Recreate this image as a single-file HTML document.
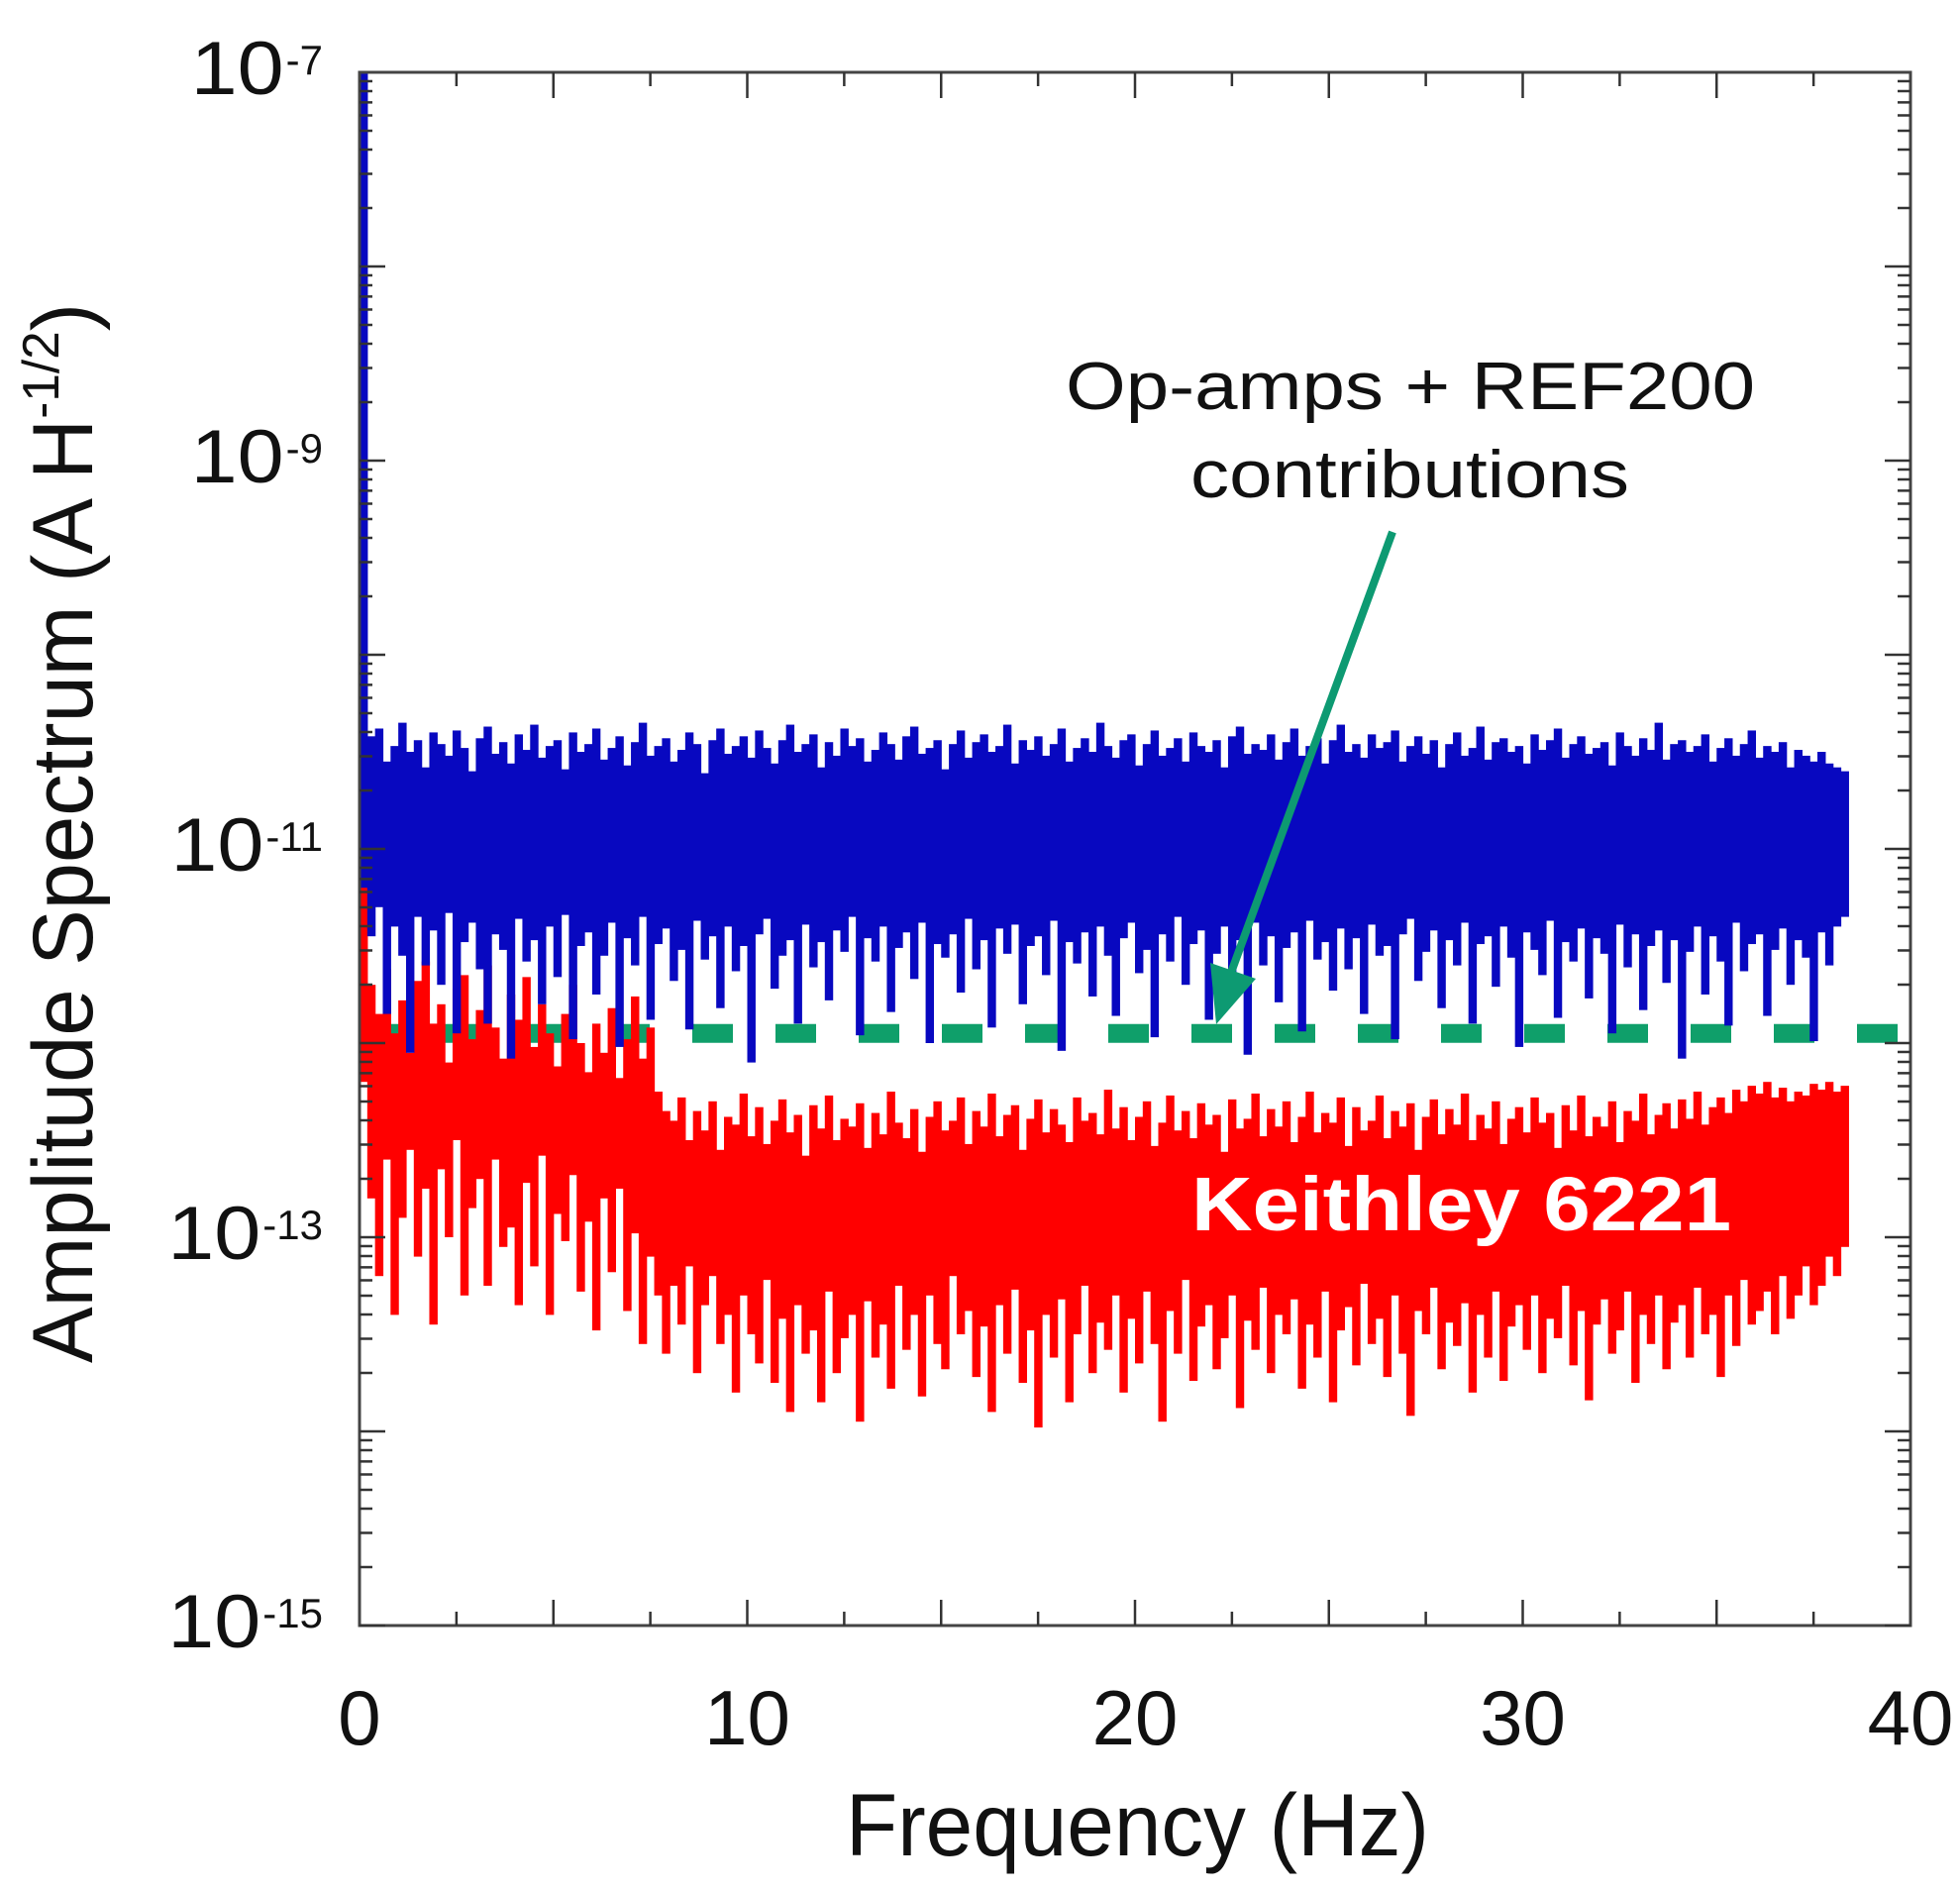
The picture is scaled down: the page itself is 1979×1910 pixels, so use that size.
<!DOCTYPE html>
<html><head><meta charset="utf-8">
<style>
html,body{margin:0;padding:0;background:#fff;}
svg{display:block;font-family:"Liberation Sans",Arial,sans-serif;}
</style></head>
<body>
<svg id="chart" width="1979" height="1910" viewBox="0 0 1979 1910" xmlns="http://www.w3.org/2000/svg">
  <rect width="1979" height="1910" fill="#fff"/>
  <line id="refline" stroke="#0f9f6a" stroke-width="19" stroke-dasharray="41 43"/>
  <g id="series"></g>
  <g id="axes"></g>
  <g>
    <line x1="1406" y1="537" x2="1240" y2="990" stroke="#0d9a72" stroke-width="8"/>
    <polygon points="1228,1034 1222,972 1268,988" fill="#0d9a72"/>
  </g>
  <text x="1076" y="413" font-size="68" textLength="696" lengthAdjust="spacingAndGlyphs" fill="#111">Op-amps + REF200</text>
  <text x="1202" y="502" font-size="68" textLength="443" lengthAdjust="spacingAndGlyphs" fill="#111">contributions</text>
  <text x="1203" y="1242" font-size="77" font-weight="bold" textLength="545" lengthAdjust="spacingAndGlyphs" fill="#fff">Keithley 6221</text>
  <text x="854" y="1873" font-size="89" textLength="589" lengthAdjust="spacingAndGlyphs" fill="#111">Frequency (Hz)</text>
  <text transform="translate(93,1376) rotate(-90)" x="0" y="0" font-size="86" textLength="1070" lengthAdjust="spacingAndGlyphs" fill="#111">Amplitude Spectrum (A H<tspan font-size="52" dy="-34">-1/2</tspan><tspan dy="34">)</tspan></text>
</svg>
<script>
// ---- data (log10 of amplitude, bins of 0.2 Hz starting at 0 Hz) ----
const binWidthHz = 0.2;
const xTickValues = [0, 10, 20, 30, 40];
const xTickLabels = ["0", "10", "20", "30", "40"];
const yDecadeExponents = [-7, -9, -11, -13, -15];
const refLevelExp = -11.95;
const blueHi = [-7.00,-10.42,-10.38,-10.55,-10.47,-10.35,-10.50,-10.44,-10.58,-10.40,
-10.46,-10.52,-10.39,-10.48,-10.60,-10.43,-10.37,-10.51,-10.45,-10.56,
-10.41,-10.49,-10.36,-10.53,-10.47,-10.44,-10.59,-10.40,-10.50,-10.46,
-10.38,-10.54,-10.48,-10.42,-10.57,-10.45,-10.35,-10.52,-10.47,-10.43,
-10.55,-10.49,-10.40,-10.46,-10.61,-10.44,-10.38,-10.51,-10.47,-10.42,
-10.53,-10.39,-10.48,-10.56,-10.44,-10.36,-10.50,-10.46,-10.41,-10.58,
-10.45,-10.52,-10.38,-10.47,-10.43,-10.55,-10.49,-10.40,-10.46,-10.54,
-10.42,-10.37,-10.51,-10.48,-10.44,-10.59,-10.46,-10.39,-10.53,-10.45,
-10.41,-10.50,-10.47,-10.36,-10.56,-10.44,-10.49,-10.42,-10.52,-10.46,
-10.38,-10.55,-10.48,-10.43,-10.50,-10.35,-10.47,-10.53,-10.44,-10.41,
-10.57,-10.46,-10.39,-10.52,-10.48,-10.43,-10.55,-10.40,-10.47,-10.50,
-10.44,-10.58,-10.42,-10.37,-10.51,-10.46,-10.49,-10.41,-10.54,-10.45,
-10.38,-10.52,-10.47,-10.43,-10.56,-10.44,-10.36,-10.50,-10.46,-10.53,
-10.41,-10.48,-10.45,-10.39,-10.55,-10.47,-10.42,-10.51,-10.44,-10.58,
-10.46,-10.40,-10.52,-10.48,-10.37,-10.54,-10.45,-10.43,-10.50,-10.47,
-10.56,-10.41,-10.49,-10.44,-10.38,-10.53,-10.46,-10.42,-10.51,-10.48,
-10.45,-10.57,-10.40,-10.47,-10.52,-10.43,-10.49,-10.35,-10.54,-10.46,
-10.44,-10.50,-10.47,-10.41,-10.55,-10.48,-10.43,-10.52,-10.46,-10.39,
-10.53,-10.47,-10.50,-10.45,-10.58,-10.49,-10.52,-10.55,-10.50,-10.56,
-10.58,-10.60];
const blueLo = [-11.20,-11.45,-11.30,-11.85,-11.40,-11.55,-12.05,-11.35,-11.60,-11.42,
-11.70,-11.33,-11.95,-11.48,-11.38,-11.62,-11.90,-11.44,-11.52,-12.08,
-11.36,-11.58,-11.47,-11.80,-11.40,-11.66,-11.34,-11.98,-11.50,-11.43,
-11.75,-11.55,-11.38,-12.02,-11.46,-11.60,-11.35,-11.88,-11.49,-11.41,
-11.68,-11.52,-11.93,-11.37,-11.57,-11.45,-11.82,-11.40,-11.63,-11.50,
-12.10,-11.44,-11.36,-11.72,-11.55,-11.47,-11.90,-11.39,-11.61,-11.48,
-11.78,-11.42,-11.53,-11.35,-11.96,-11.46,-11.58,-11.40,-11.84,-11.51,
-11.43,-11.67,-11.38,-12.00,-11.49,-11.56,-11.44,-11.74,-11.36,-11.62,
-11.47,-11.92,-11.41,-11.54,-11.39,-11.80,-11.50,-11.45,-11.65,-11.37,
-12.04,-11.48,-11.59,-11.43,-11.76,-11.40,-11.55,-11.86,-11.46,-11.38,
-11.64,-11.52,-11.97,-11.44,-11.58,-11.35,-11.70,-11.49,-11.42,-11.88,
-11.54,-11.40,-11.66,-11.47,-12.06,-11.38,-11.60,-11.45,-11.79,-11.51,
-11.43,-11.94,-11.37,-11.57,-11.48,-11.73,-11.41,-11.62,-11.46,-11.85,
-11.39,-11.55,-11.50,-11.98,-11.44,-11.36,-11.68,-11.53,-11.42,-11.82,
-11.47,-11.60,-11.38,-11.90,-11.49,-11.45,-11.71,-11.40,-11.56,-12.02,
-11.43,-11.52,-11.65,-11.37,-11.87,-11.48,-11.58,-11.41,-11.77,-11.46,
-11.54,-11.95,-11.39,-11.61,-11.44,-11.83,-11.50,-11.42,-11.69,-11.47,
-12.08,-11.53,-11.40,-11.75,-11.45,-11.58,-11.91,-11.38,-11.63,-11.49,
-11.44,-11.86,-11.52,-11.41,-11.70,-11.47,-11.56,-11.99,-11.43,-11.60,
-11.40,-11.35];
const redHi = [-11.00,-11.70,-11.85,-11.62,-11.95,-11.78,-12.05,-11.68,-11.58,-11.90,
-11.80,-12.10,-11.72,-11.65,-11.98,-11.83,-11.60,-11.92,-12.08,-11.75,
-11.88,-11.66,-12.02,-11.80,-11.95,-12.12,-11.85,-11.70,-12.00,-12.15,
-11.90,-12.05,-11.82,-12.18,-11.98,-11.76,-12.08,-11.92,-12.25,-12.35,
-12.40,-12.28,-12.50,-12.35,-12.45,-12.30,-12.55,-12.38,-12.42,-12.26,
-12.48,-12.33,-12.52,-12.40,-12.29,-12.46,-12.37,-12.58,-12.32,-12.44,
-12.27,-12.50,-12.39,-12.43,-12.31,-12.54,-12.36,-12.47,-12.25,-12.41,
-12.49,-12.34,-12.56,-12.38,-12.30,-12.45,-12.40,-12.28,-12.52,-12.35,
-12.43,-12.26,-12.48,-12.37,-12.32,-12.55,-12.39,-12.29,-12.46,-12.34,
-12.42,-12.51,-12.28,-12.40,-12.36,-12.47,-12.24,-12.44,-12.33,-12.50,
-12.38,-12.30,-12.53,-12.41,-12.27,-12.45,-12.35,-12.49,-12.31,-12.42,
-12.37,-12.56,-12.29,-12.44,-12.39,-12.26,-12.48,-12.34,-12.43,-12.30,
-12.51,-12.38,-12.25,-12.46,-12.36,-12.41,-12.28,-12.53,-12.33,-12.45,
-12.40,-12.27,-12.49,-12.35,-12.43,-12.31,-12.55,-12.38,-12.29,-12.47,
-12.34,-12.42,-12.26,-12.50,-12.37,-12.44,-12.30,-12.52,-12.39,-12.33,
-12.46,-12.28,-12.41,-12.36,-12.54,-12.32,-12.45,-12.27,-12.48,-12.38,
-12.43,-12.30,-12.51,-12.35,-12.40,-12.26,-12.47,-12.37,-12.31,-12.44,
-12.29,-12.39,-12.25,-12.42,-12.33,-12.28,-12.36,-12.24,-12.30,-12.22,
-12.26,-12.20,-12.28,-12.23,-12.30,-12.25,-12.27,-12.21,-12.24,-12.20,
-12.25,-12.22];
const redLo = [-12.20,-12.80,-13.20,-12.60,-13.40,-12.90,-12.55,-13.10,-12.75,-13.45,
-12.65,-13.00,-12.50,-13.30,-12.85,-12.70,-13.25,-12.60,-13.05,-12.95,
-13.35,-12.72,-13.15,-12.58,-13.40,-12.88,-13.02,-12.68,-13.28,-12.92,
-13.48,-12.80,-13.18,-12.75,-13.38,-12.98,-13.55,-13.10,-13.30,-13.60,
-13.25,-13.45,-13.15,-13.70,-13.35,-13.20,-13.55,-13.40,-13.80,-13.30,
-13.50,-13.65,-13.22,-13.75,-13.42,-13.90,-13.35,-13.60,-13.48,-13.85,
-13.28,-13.70,-13.52,-13.40,-13.95,-13.33,-13.62,-13.45,-13.78,-13.25,
-13.58,-13.40,-13.82,-13.30,-13.55,-13.68,-13.20,-13.50,-13.38,-13.72,
-13.46,-13.90,-13.35,-13.60,-13.27,-13.75,-13.48,-13.98,-13.40,-13.62,
-13.32,-13.85,-13.50,-13.25,-13.70,-13.44,-13.58,-13.30,-13.80,-13.42,
-13.65,-13.28,-13.55,-13.95,-13.38,-13.60,-13.22,-13.74,-13.46,-13.35,
-13.68,-13.52,-13.30,-13.88,-13.43,-13.58,-13.26,-13.70,-13.40,-13.50,
-13.32,-13.78,-13.45,-13.62,-13.28,-13.85,-13.48,-13.36,-13.66,-13.24,
-13.55,-13.42,-13.72,-13.30,-13.60,-13.92,-13.38,-13.50,-13.26,-13.68,
-13.44,-13.56,-13.34,-13.80,-13.40,-13.62,-13.28,-13.74,-13.46,-13.35,
-13.58,-13.30,-13.70,-13.42,-13.52,-13.25,-13.66,-13.38,-13.84,-13.45,
-13.32,-13.60,-13.48,-13.28,-13.75,-13.40,-13.55,-13.30,-13.68,-13.44,
-13.35,-13.62,-13.26,-13.50,-13.40,-13.72,-13.30,-13.56,-13.22,-13.45,
-13.38,-13.28,-13.50,-13.20,-13.42,-13.30,-13.15,-13.35,-13.25,-13.10,
-13.20,-13.05];

// ---- axes ----
const PL = 363, PR = 1929, PT = 73, PB = 1641;
const X_MIN = 0, X_MAX = 40, Y_TOP = -7, Y_BOT = -15;
function X(f){ return PL + (f - X_MIN) / (X_MAX - X_MIN) * (PR - PL); }
function Y(e){ return PT + (Y_TOP - e) / (Y_TOP - Y_BOT) * (PB - PT); }
const NS = "http://www.w3.org/2000/svg";
function mk(tag, attrs, parent){
  const el = document.createElementNS(NS, tag);
  for (const k in attrs) el.setAttribute(k, attrs[k]);
  parent.appendChild(el);
  return el;
}
const series = document.getElementById('series');
const axes = document.getElementById('axes');

function drawSeries(hi, lo, color, name){
  const g = mk('g', {fill: color}, series);
  
  
  for (let i = 0; i < hi.length; i++){
    const x0 = X(i * binWidthHz), x1 = X((i + 1) * binWidthHz);
    const y0 = Y(hi[i]), y1 = Y(lo[i]);
    const r = mk('rect', {x: x0, y: y0, width: (x1 - x0) + 0.6, height: y1 - y0}, g);
    
    
  }
}
drawSeries(redHi, redLo, '#ff0000', 'keithley-series');
drawSeries(blueHi, blueLo, '#0808c0', 'opamp-series');

// reference dashed line
const ref = document.getElementById('refline');
ref.setAttribute('x1', PL); ref.setAttribute('x2', PR);
ref.setAttribute('y1', Y(refLevelExp)); ref.setAttribute('y2', Y(refLevelExp));

// frame
const frame = mk('rect', {x: PL, y: PT, width: PR - PL, height: PB - PT, fill: 'none', stroke: '#444', 'stroke-width': 3}, axes);



// y ticks
for (let d = -15; d < -7; d++){
  for (let m = 1; m <= 9; m++){
    const e = d + Math.log10(m);
    const y = Y(e);
    const len = m === 1 ? 26 : 13;
    const t1 = mk('line', {x1: PL, x2: PL + len, y1: y, y2: y, stroke: '#333', 'stroke-width': 2.5}, axes);
    
    
    const t2 = mk('line', {x1: PR, x2: PR - len, y1: y, y2: y, stroke: '#333', 'stroke-width': 2.5}, axes);
    
    
  }
}
// x ticks
for (let f = 2.5; f < 40; f += 2.5){
  const x = X(f);
  const len = (f % 5 === 0) ? 26 : 14;
  const b = mk('line', {x1: x, x2: x, y1: PB, y2: PB - len, stroke: '#333', 'stroke-width': 2.5}, axes);
  
  
  const t = mk('line', {x1: x, x2: x, y1: PT, y2: PT + len, stroke: '#333', 'stroke-width': 2.5}, axes);
  
  
}
// x tick labels
xTickValues.forEach((v, i) => {
  const t = mk('text', {x: X(v), y: 1761, 'text-anchor': 'middle', 'font-size': 78, fill: '#111'}, axes);
  
  
  t.textContent = xTickLabels[i];
});
// y tick labels: exponent right-aligned at 326, "10" placed just left of it
yDecadeExponents.forEach(e => {
  const y = Y(e) + 22;
  const s = mk('text', {x: 326, y: y - 20, 'text-anchor': 'end', 'font-size': 42, fill: '#111'}, axes);
  
  
  s.textContent = String(e);
  const w = s.getComputedTextLength();
  const b = mk('text', {x: 326 - w - 96, y: y, 'font-size': 76, textLength: 94, lengthAdjust: 'spacingAndGlyphs', fill: '#111'}, axes);
  
  
  b.textContent = '10';
});
</script>
</body></html>
